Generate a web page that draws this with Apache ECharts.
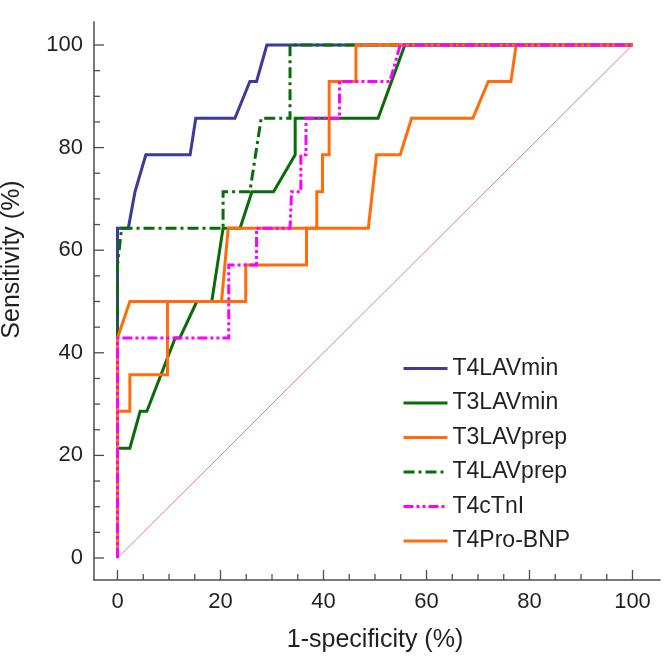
<!DOCTYPE html>
<html>
<head>
<meta charset="utf-8">
<script src="https://cdn.jsdelivr.net/npm/echarts@6/dist/echarts.min.js"></script>
<style>html,body{margin:0;padding:0;background:#fff}#c{width:666px;height:663px}</style>
</head>
<body>
<div id="c"></div>
<script>
// Axis settings and tick values
var axisMin = 0, axisMax = 100, majorStep = 20;
var majorTicks = [0, 20, 40, 60, 80, 100];
var minorTicks = [5, 10, 15, 25, 30, 35, 45, 50, 55, 65, 70, 75, 85, 90, 95];

// Series names (legend order)
var seriesNames = ['T4LAVmin', 'T3LAVmin', 'T3LAVprep', 'T4LAVprep', 'T4cTnI', 'T4Pro-BNP'];

// ROC curves: x = 1-specificity (%), y = sensitivity (%)
var t4lavminX = [0, 0, 2.1, 3.4, 5.5, 14.1, 15.2, 22.8, 25.7, 27.0, 29.0, 100];
var t4lavminY = [0, 64.3, 64.3, 71.4, 78.6, 78.6, 85.7, 85.7, 92.9, 92.9, 100, 100];

var t3lavminX = [0, 0, 2.4, 4.4, 5.7, 11.2, 12.1, 15.4, 18.3, 20.5, 23.8, 26.1, 30.3, 34.5, 34.5, 50.6, 55.8, 100];
var t3lavminY = [0, 21.4, 21.4, 28.6, 28.6, 42.9, 42.9, 50, 50, 64.3, 64.3, 71.4, 71.4, 78.6, 85.7, 85.7, 100, 100];

var t3lavprepX = [0, 0, 2.4, 2.4, 9.7, 9.7, 20.2, 21.5, 38.7, 38.7, 39.8, 39.8, 41.1, 41.1, 46.3, 46.3, 100];
var t3lavprepY = [0, 28.6, 28.6, 35.7, 35.7, 50, 50, 64.3, 64.3, 71.4, 71.4, 78.6, 78.6, 92.9, 92.9, 100, 100];

var t4lavprepX = [0, 0, 0.8, 20.5, 20.5, 25.7, 27.9, 33.5, 33.5, 100];
var t4lavprepY = [0, 57.1, 64.3, 64.3, 71.4, 71.4, 85.7, 85.7, 100, 100];

var t4ctniX = [0, 0, 21.6, 21.6, 27.0, 27.0, 33.5, 33.8, 35.6, 35.6, 36.6, 36.6, 43.1, 43.1, 52.9, 54.9, 100];
var t4ctniY = [0, 42.9, 42.9, 57.1, 57.1, 64.3, 64.3, 71.4, 71.4, 78.6, 78.6, 85.7, 85.7, 92.9, 92.9, 100, 100];

var t4probnpX = [0, 0, 2.4, 24.9, 24.9, 36.7, 36.7, 48.7, 50.3, 54.9, 57.1, 69.0, 72.0, 76.4, 77.4, 100];
var t4probnpY = [0, 42.9, 50, 50, 57.1, 57.1, 64.3, 64.3, 78.6, 78.6, 85.7, 85.7, 92.9, 92.9, 100, 100];

var diagX = [0, 100];
var diagY = [0, 100];

function pairs(xs, ys) { return xs.map(function (x, i) { return [x, ys[i]]; }); }

var FONT = "'Liberation Sans', Arial, sans-serif";
var TXT = '#231f20';
var AX = '#4d4d4d';
// outer frame axes (lines only) extend a little beyond 0..100
var XMIN = -4.56, XMAX = 105.3, YMIN = -4.29, YMAX = 104.5;

function lineSeries(name, xs, ys, color, type, z) {
  return {
    name: name, type: 'line', data: pairs(xs, ys), symbol: 'none', z: z,
    xAxisIndex: 1, yAxisIndex: 1, clip: false,
    lineStyle: { color: color, width: 3, type: type, cap: 'butt', join: 'miter' },
    itemStyle: { color: color },
    animation: false, silent: true
  };
}

// Tick marks on the frame axes, drawn as short line segments through the data axes' scales
function tickSeries(isX, values, len) {
  return {
    type: 'custom', xAxisIndex: 1, yAxisIndex: 1, clip: false, silent: true, z: 10,
    data: values.map(function (v) { return isX ? [v, YMIN] : [XMIN, v]; }),
    renderItem: function (params, api) {
      var p = api.coord([api.value(0), api.value(1)]);
      var x1 = p[0], y1 = p[1];
      var x2 = isX ? x1 : x1 + len, y2 = isX ? y1 - len : y1;
      return {
        type: 'line',
        shape: { x1: x1, y1: y1, x2: x2, y2: y2 },
        style: { stroke: AX, lineWidth: 1.3 }
      };
    },
    animation: false
  };
}

function frameAxis(isX) {
  return {
    type: 'value', gridIndex: 0, min: isX ? XMIN : YMIN, max: isX ? XMAX : YMAX,
    position: isX ? 'bottom' : 'left',
    axisLine: { show: true, onZero: false, lineStyle: { color: AX, width: 1.5 } },
    axisTick: { show: false }, minorTick: { show: false },
    axisLabel: { show: false }, splitLine: { show: false }
  };
}

function dataAxis(isX, name, gap, offset) {
  var ax = {
    type: 'value', gridIndex: 1, min: axisMin, max: axisMax, interval: majorStep,
    position: isX ? 'bottom' : 'left', offset: offset,
    name: name, nameLocation: 'middle', nameGap: gap,
    nameTextStyle: { fontFamily: FONT, fontSize: 25, color: TXT },
    axisLine: { show: false, onZero: false },
    axisTick: { show: false }, minorTick: { show: false },
    axisLabel: { show: true, fontFamily: FONT, fontSize: 22, color: TXT, margin: 11 },
    splitLine: { show: false }, minorSplitLine: { show: false }
  };
  if (!isX) {
    ax.nameRotate = 90;
    ax.nameTextStyle.padding = [0, 0, 0, 84];
  }
  return ax;
}

var chart = echarts.init(document.getElementById('c'), null, { renderer: 'canvas' });
chart.setOption({
  animation: false,
  backgroundColor: '#ffffff',
  grid: [
    { left: 94, right: 6, top: 21.7, bottom: 83, containLabel: false, outerBoundsMode: 'none' },
    { left: 117.5, right: 33.5, top: 45, bottom: 105, containLabel: false, outerBoundsMode: 'none' }
  ],
  legend: {
    data: seriesNames,
    orient: 'vertical',
    left: 402, top: 357, padding: 0,
    itemWidth: 44, itemHeight: 14, itemGap: 11.5,
    itemStyle: { opacity: 0 },
    lineStyle: { width: 3 },
    textStyle: { fontFamily: FONT, fontSize: 23, color: TXT },
    selectedMode: false
  },
  xAxis: [frameAxis(true), dataAxis(true, '1-specificity (%)', 48, 22)],
  yAxis: [frameAxis(false), dataAxis(false, 'Sensitivity (%)', 69, 23.5)],
  series: [
    { type: 'line', data: pairs(diagX, diagY), symbol: 'none', z: 1, silent: true,
      xAxisIndex: 1, yAxisIndex: 1, clip: false,
      lineStyle: { color: '#c98585', width: 1 } },
    lineSeries('T4LAVmin', t4lavminX, t4lavminY, '#3b3b98', 'solid', 2),
    lineSeries('T3LAVmin', t3lavminX, t3lavminY, '#0a6b0a', 'solid', 3),
    lineSeries('T4LAVprep', t4lavprepX, t4lavprepY, '#0a6b0a', [11, 4, 3, 4], 4),
    lineSeries('T4Pro-BNP', t4probnpX, t4probnpY, '#ff6d0a', 'solid', 5),
    lineSeries('T3LAVprep', t3lavprepX, t3lavprepY, '#ff6d0a', 'solid', 6),
    lineSeries('T4cTnI', t4ctniX, t4ctniY, '#ff00ff', [10, 3, 3, 3, 3, 3], 7),
    tickSeries(true, majorTicks, 10),
    tickSeries(true, minorTicks, 6),
    tickSeries(false, majorTicks, 10),
    tickSeries(false, minorTicks, 6)
  ]
});
</script>
</body>
</html>
